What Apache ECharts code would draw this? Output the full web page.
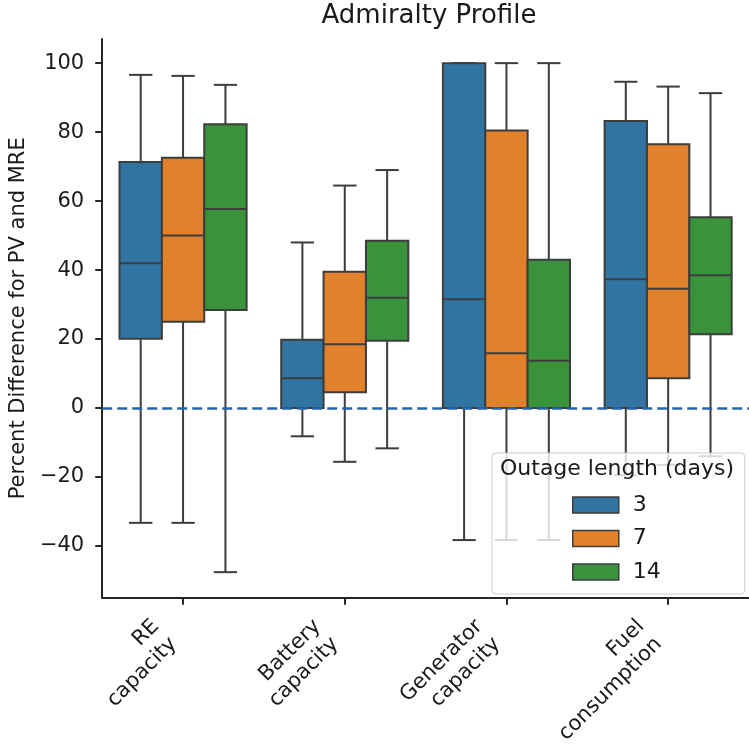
<!DOCTYPE html>
<html>
<head>
<meta charset="utf-8">
<script src="https://cdn.jsdelivr.net/npm/echarts@6/dist/echarts.min.js"></script>
<style>
html,body{margin:0;padding:0;background:#fff;}
#chart{width:749px;height:748px;}
</style>
</head>
<body>
<div id="chart"></div>
<script>
// ---- data ----
const categories = ['RE\ncapacity', 'Battery\ncapacity', 'Generator\ncapacity', 'Fuel\nconsumption'];
const seriesNames = ['3', '7', '14'];
// each entry: [lower whisker, Q1, median, Q3, upper whisker]
const days3 = [
  [-33.3, 20.1, 42.0, 71.3, 96.6],
  [-8.2, 0.0, 8.6, 19.8, 48.0],
  [-38.3, 0.0, 31.5, 100.0, 100.0],
  [-19.5, 0.0, 37.3, 83.2, 94.6]
];
const days7 = [
  [-33.3, 25.0, 50.0, 72.6, 96.3],
  [-15.6, 4.6, 18.5, 39.5, 64.5],
  [-38.3, 0.0, 15.9, 80.5, 100.0],
  [-16.5, 8.6, 34.6, 76.5, 93.2]
];
const days14 = [
  [-47.6, 28.4, 57.7, 82.3, 93.7],
  [-11.7, 19.5, 32.0, 48.5, 69.0],
  [-38.3, 0.0, 13.7, 43.0, 100.0],
  [-14.0, 21.4, 38.5, 55.3, 91.3]
];
const yTickValues = [-40, -20, 0, 20, 40, 60, 80, 100];
const yMin = -55, yMax = 107;
const referenceLine = 0;

// ---- styles ----
const colors = ['#3274a1', '#e1812c', '#3a923a'];
const edge = '#3d3d3d';
const axisColor = '#262626';
const FONT = 'DejaVu Sans';
const BOX_FRAC = 0.262;   // box width as share of category band
const CAP_FRAC = 0.55;    // cap width as share of box width

const allSeries = [days3, days7, days14];

function makeRender(sIdx) {
  return function (params, api) {
    const ci = api.value(0);
    const lo = api.value(1), q1 = api.value(2), med = api.value(3), q3 = api.value(4), hi = api.value(5);
    const band = api.size([1, 0])[0];
    const w = band * BOX_FRAC;
    const cx = api.coord([ci, 0])[0] + (sIdx - 1) * w;
    const Y = v => api.coord([ci, v])[1];
    const capHalf = w * CAP_FRAC / 2;
    const ls = { stroke: edge, lineWidth: 2 };
    const yq1 = Y(q1), yq3 = Y(q3), ymed = Y(med), ylo = Y(lo), yhi = Y(hi);
    return {
      type: 'group',
      children: [
        { type: 'line', shape: { x1: cx, y1: yq1, x2: cx, y2: ylo }, style: ls },
        { type: 'line', shape: { x1: cx, y1: yq3, x2: cx, y2: yhi }, style: ls },
        { type: 'line', shape: { x1: cx - capHalf, y1: ylo, x2: cx + capHalf, y2: ylo }, style: ls },
        { type: 'line', shape: { x1: cx - capHalf, y1: yhi, x2: cx + capHalf, y2: yhi }, style: ls },
        { type: 'rect', shape: { x: cx - w / 2, y: yq3, width: w, height: yq1 - yq3 },
          style: { fill: colors[sIdx], stroke: edge, lineWidth: 2 } },
        { type: 'line', shape: { x1: cx - w / 2, y1: ymed, x2: cx + w / 2, y2: ymed }, style: ls }
      ]
    };
  };
}

const series = allSeries.map((arr, sIdx) => {
  const s = {
    name: seriesNames[sIdx],
    type: 'custom',
    renderItem: makeRender(sIdx),
    itemStyle: { color: colors[sIdx], borderColor: edge },
    encode: { x: 0, y: [1, 2, 3, 4, 5] },
    data: arr.map((v, i) => [i].concat(v)),
    z: 2
  };
  if (sIdx === 0) {
    s.markLine = {
      silent: true,
      symbol: 'none',
      z: 5,
      label: { show: false },
      lineStyle: { color: '#2366ad', type: [10, 5], width: 2.5, opacity: 1 },
      data: [{ yAxis: referenceLine }]
    };
  }
  return s;
});

const chart = echarts.init(document.getElementById('chart'), null, { renderer: 'canvas' });
chart.setOption({
  animation: false,
  backgroundColor: '#ffffff',
  textStyle: { fontFamily: FONT },
  title: {
    text: 'Admiralty Profile',
    left: 429, top: 3, padding: 0,
    textAlign: 'center',
    textStyle: { fontFamily: FONT, fontSize: 26, fontWeight: 'normal', color: '#1a1a1a' }
  },
  grid: { left: 101, right: -8, top: 39, bottom: 146, containLabel: false },
  xAxis: {
    type: 'category',
    data: categories,
    axisLine: { show: true, onZero: false, lineStyle: { color: axisColor, width: 2 } },
    axisTick: { show: true, alignWithLabel: true, length: 7, lineStyle: { color: axisColor, width: 2 } },
    axisLabel: {
      rotate: 45, interval: 0, margin: 16,
      fontFamily: FONT, fontSize: 21, color: '#1a1a1a',
      lineHeight: 25, align: 'right', padding: [0, 26, 0, 0]
    },
    splitLine: { show: false }
  },
  yAxis: {
    type: 'value',
    min: yMin, max: yMax,
    name: 'Percent Difference for PV and MRE',
    nameLocation: 'middle', nameGap: 73,
    nameTextStyle: { fontFamily: FONT, fontSize: 21, color: '#1a1a1a' },
    axisLine: { show: true, lineStyle: { color: axisColor, width: 2 } },
    axisTick: { show: true, length: 7, lineStyle: { color: axisColor, width: 2 }, customValues: yTickValues },
    axisLabel: {
      fontFamily: FONT, fontSize: 21, color: '#1a1a1a', margin: 18, customValues: yTickValues,
      formatter: v => String(v).replace('-', '\u2212')
    },
    splitLine: { show: false }
  },
  legend: {
    orient: 'vertical',
    left: 492, top: 453,
    padding: [41, 84, 11, 80],
    itemWidth: 46, itemHeight: 16, itemGap: 11.5,
    icon: 'rect',
    backgroundColor: 'rgba(255,255,255,0.8)',
    borderColor: '#cccccc', borderWidth: 1, borderRadius: 4,
    itemStyle: { borderColor: edge, borderWidth: 1.5 },
    textStyle: { fontFamily: FONT, fontSize: 22, color: '#1a1a1a', padding: [0, 0, 0, 9] },
    data: seriesNames,
    z: 10
  },
  graphic: [{
    type: 'text', left: 500, top: 458, z: 100,
    style: { text: 'Outage length (days)', font: '22px "DejaVu Sans"', fill: '#1a1a1a' }
  }],
  series: series
});
</script>
</body>
</html>
